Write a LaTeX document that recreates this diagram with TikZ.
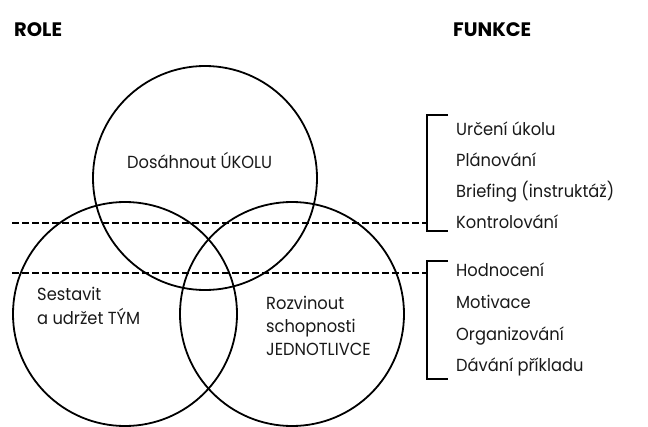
\documentclass[tikz,border=0pt]{standalone}
\usepackage{fontspec}
\setmainfont{Poppins}[FakeStretch=0.93]
\newfontfamily\boldfam{Poppins Bold}
\begin{document}
\begin{tikzpicture}[x=1pt,y=-1pt,
  venn/.style={draw=black,line width=1.8pt,circle,minimum size=224pt,inner sep=0pt},
  lbl/.style={anchor=base west,inner sep=0pt,font=\fontsize{17.5}{20}\selectfont,text=black!90},
  head/.style={anchor=base west,inner sep=0pt,font=\boldfam\fontsize{19.5}{22}\selectfont},
  dashln/.style={draw,line width=1.2pt,dash pattern=on 6.5pt off 3.5pt},
  brk/.style={draw,line width=1.5pt}]
\useasboundingbox (0,0) rectangle (648,426);
\node[venn] (task) at (205,178) {};
\node[venn] (team) at (125,314) {};
\node[venn] (ind) at (292,314) {};
\node[head] (role) at (14,36) {ROLE};
\node[head] (funkce) at (453,36) {FUNKCE};
\node[lbl] (t1) at (127,168) {Dosáhnout ÚKOLU};
\node[lbl] (t2) at (37,300) {Sestavit};
\node[lbl] (t2b) at (37,324) {a udržet TÝM};
\node[lbl] (t3a) at (266,309) {Rozvinout};
\node[lbl] (t3b) at (266,332) {schopnosti};
\node[lbl] (t3c) at (266,355) {JEDNOTLIVCE};
\node[lbl] (f1) at (456,135) {Určení úkolu};
\node[lbl] (f2) at (456,166) {Plánování};
\node[lbl] (f3) at (456,197) {Briefing (instruktáž)};
\node[lbl] (f4) at (456,228) {Kontrolování};
\node[lbl] (f5) at (456,276) {Hodnocení};
\node[lbl] (f6) at (456,308) {Motivace};
\node[lbl] (f7) at (456,340) {Organizování};
\node[lbl] (f8) at (456,371) {Dávání příkladu};
\coordinate (b1t) at (427,115);
\coordinate (b1b) at (427,231);
\coordinate (b2t) at (427,261);
\coordinate (b2b) at (427,379);
\coordinate (d1) at (12,223);
\coordinate (d2) at (12,273);
\draw[brk] ([xshift=21pt]b1t) -- (b1t) -- (b1b) -- ([xshift=21pt]b1b);
\draw[brk] ([xshift=21pt]b2t) -- (b2t) -- (b2b) -- ([xshift=21pt]b2b);
\draw[dashln] (d1) -- (d1 -| b1t);
\draw[dashln] (d2) -- (d2 -| b2t);
\end{tikzpicture}
\end{document}
